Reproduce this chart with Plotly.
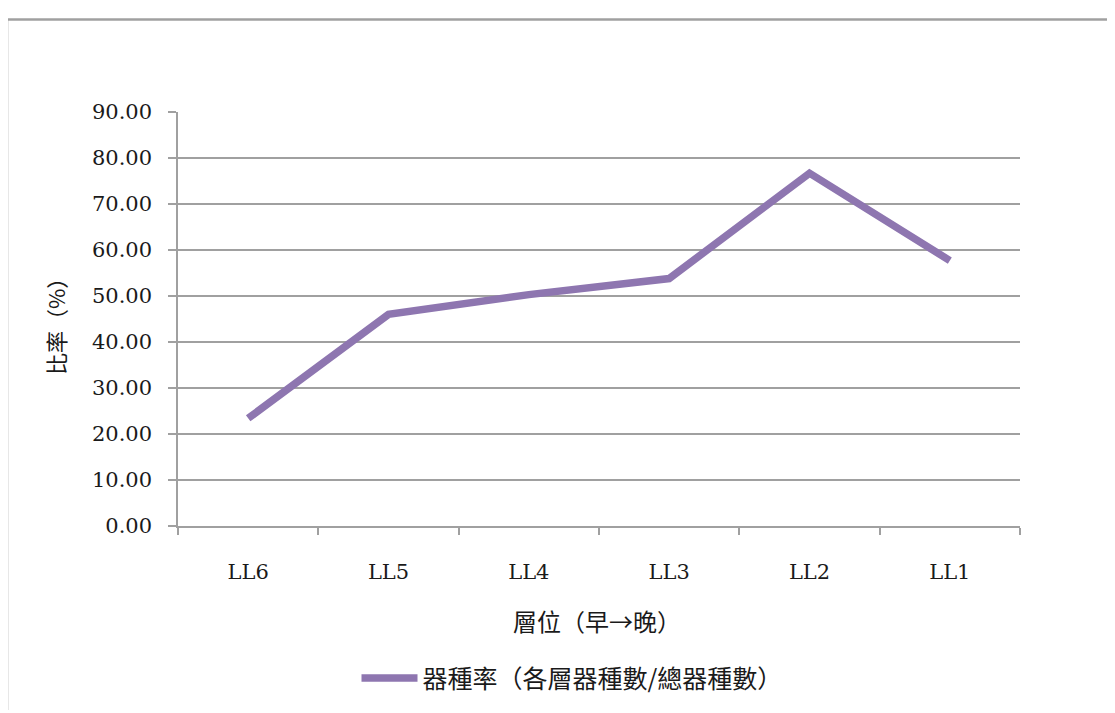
import plotly.graph_objects as go

categories = ["LL6", "LL5", "LL4", "LL3", "LL2", "LL1"]
ratio_values = [23.4, 46.0, 50.3, 53.8, 76.7, 57.7]
series_name = "器種率（各層器種數/總器種數）"
y_title = "比率（%）"
x_title = "層位（早→晚）"
y_ticks = [0, 10, 20, 30, 40, 50, 60, 70, 80, 90]

OFF = 8  # page body margin
W, H = 1115 - OFF, 713 - OFF
L, R, T, B = 170, 95, 104, 185
pw, ph = W - L - R, H - T - B

def px(x):
    return (x - OFF - L) / pw

def py(y):
    return (H - B - (y - OFF)) / ph

fig = go.Figure()
fig.add_trace(go.Scatter(
    x=categories, y=ratio_values, mode="lines", name=series_name,
    line=dict(color="#8E76B0", width=7.5),
))

serif = "DejaVu Serif, Liberation Serif, serif"
cjk = "Noto Sans CJK TC, Noto Sans CJK SC, sans-serif"
grid = "#A0A0A0"
txt = "#1a1a1a"

fig.update_layout(
    width=W, height=H,
    margin=dict(l=L, r=R, t=T, b=B),
    paper_bgcolor="white", plot_bgcolor="white",
    showlegend=True,
    legend=dict(orientation="h", x=px(572), xanchor="center",
                y=py(681), yanchor="middle", itemwidth=56,
                font=dict(family=cjk, size=25, color=txt)),
    xaxis=dict(type="category", range=[-0.5, 5.5], tickson="boundaries",
               ticks="outside", ticklen=7, tickcolor=grid, tickwidth=1.5,
               showline=True, linecolor=grid, linewidth=1.5,
               showgrid=False, zeroline=False,
               tickfont=dict(family=serif, size=21, color=txt),
               ticklabelstandoff=26),
    yaxis=dict(range=[0, 90], tickvals=y_ticks, tickformat=".2f",
               ticks="outside", ticklen=8, tickcolor=grid, tickwidth=1.5,
               showline=True, linecolor=grid, linewidth=1.5,
               showgrid=True, gridcolor=grid, gridwidth=1.5, zeroline=False,
               tickfont=dict(family=serif, size=21, color=txt),
               ticklabelstandoff=12),
)

fig.add_annotation(text=y_title, xref="paper", yref="paper",
                   x=px(55), y=py(322), xanchor="center", yanchor="middle",
                   textangle=-90, showarrow=False,
                   font=dict(family=cjk, size=22, color=txt))
fig.add_annotation(text=x_title, xref="paper", yref="paper",
                   x=px(597), y=py(623), xanchor="center", yanchor="middle",
                   showarrow=False,
                   font=dict(family=cjk, size=24, color=txt))

# document frame
fig.add_shape(type="line", xref="paper", yref="paper",
              x0=px(7), x1=px(7), y0=py(713), y1=py(19),
              line=dict(color="#A0A0A0", width=2.5))
fig.add_shape(type="line", xref="paper", yref="paper",
              x0=px(7), x1=px(1115), y0=py(19), y1=py(19),
              line=dict(color="#A0A0A0", width=2.5))

fig.write_html("out.html")
